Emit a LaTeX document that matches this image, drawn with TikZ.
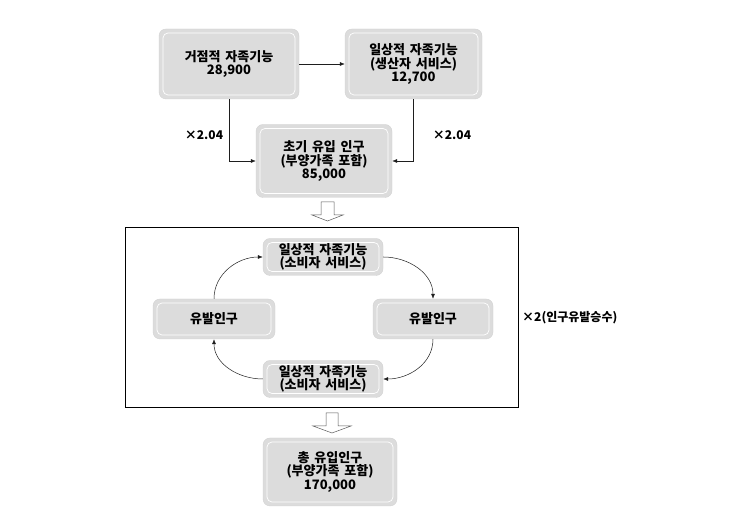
\documentclass[tikz,border=0pt]{standalone}
\usepackage{fontspec}
\usepackage{tikz}
\usepackage{xcolor}
\usetikzlibrary{positioning, arrows.meta}
\newfontfamily\kr{Noto Sans CJK KR}[WordSpace=1.6]
\definecolor{boxfill}{RGB}{220, 220, 220}
\definecolor{boxedge}{RGB}{210, 210, 210}
\definecolor{lineblack}{RGB}{30, 30, 30}
\tikzset{
    flowbox/.style={rounded corners=7pt, fill=boxfill, draw=boxedge, line width=0.4pt,
        align=center, font=\kr\bfseries\fontsize{13}{13.5}\selectfont, inner sep=2pt,
        path picture={\draw[white, line width=0.7pt, rounded corners=5pt]
            ([shift={(4pt,4pt)}]path picture bounding box.south west) rectangle
            ([shift={(-4pt,-4pt)}]path picture bounding box.north east);}},
    bigbox/.style={flowbox, minimum width=137pt, minimum height=70pt},
    loopbox/.style={flowbox, minimum width=120pt, minimum height=37pt},
    link/.style={draw=lineblack, line width=0.5pt, -{Latex[length=5pt,width=4pt]}},
    multlabel/.style={font=\kr\bfseries\fontsize{12}{13}\selectfont, inner sep=0pt},
    hollow/.style={draw=gray!70!black, line width=0.5pt, fill=white}
}

\begin{document}
\begin{tikzpicture}[x=1pt, y=1pt]
    \useasboundingbox (0,0) rectangle (740,524);
    % upper part
    \node[bigbox, minimum width=140pt] (base) at (229,460) {거점적 자족기능\\28,900};
    \node[bigbox] (producer) at (413.5,460) {일상적 자족기능\\(생산자 서비스)\\12,700};
    \node[bigbox, minimum width=136pt, minimum height=73pt] (initial) at (324,363) {초기 유입 인구\\(부양가족 포함)\\85,000};
    \draw[link] (base) -- (producer);
    \draw[link] (base.south) |- (initial.west);
    \draw[link] (producer.south) |- (initial.east);
    \node[multlabel] (multl) at (204,389) {×2.04};
    \node[multlabel] (multr) at (452,389) {×2.04};
    % hollow arrow
    \draw[hollow] (321,322) -- (334,322) -- (334,309) -- (343,309) -- (327.5,303)
        -- (312,309) -- (321,309) -- cycle;
    % induced loop
    \draw[line width=0.5pt] (125,117) rectangle (518,297);
    \node[loopbox] (consumer1) at (323,267) {일상적 자족기능\\(소비자 서비스)};
    \node[loopbox, minimum width=122pt, minimum height=40pt] (inducedl) at (214,205) {유발인구};
    \node[loopbox, minimum height=40pt] (inducedr) at (433,205) {유발인구};
    \node[loopbox] (consumer2) at (323,145) {일상적 자족기능\\(소비자 서비스)};
    \draw[link] (inducedl.north) to[out=90, in=180] (consumer1.west);
    \draw[link] (consumer1.east) to[out=0, in=90] (inducedr.north);
    \draw[link] (inducedr.south) to[out=-90, in=0] (consumer2.east);
    \draw[link] (consumer2.west) to[out=180, in=-90] (inducedl.south);
    \node[multlabel, anchor=west] (multloop) at (522,206) {×2(인구유발승수)};
    % hollow arrow
    \draw[hollow] (326,111) -- (338,111) -- (338,98) -- (351,98) -- (332,91)
        -- (313,98) -- (326,98) -- cycle;
    % total
    \node[bigbox, minimum width=134pt, minimum height=68pt] (total) at (330,52) {총 유입인구\\(부양가족 포함)\\170,000};
\end{tikzpicture}
\end{document}
